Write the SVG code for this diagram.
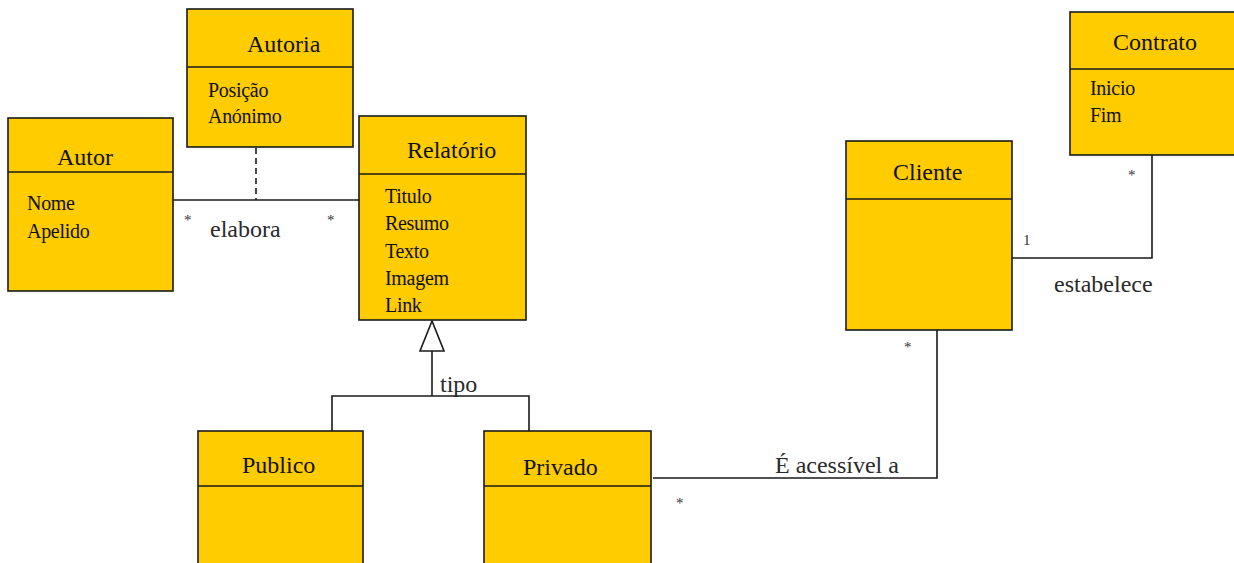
<svg xmlns="http://www.w3.org/2000/svg" width="1234" height="563" viewBox="0 0 1234 563">
<style>
.box{fill:#FFCC00;stroke:#1a1a1a;stroke-width:1.6}
.div{stroke:#1a1a1a;stroke-width:1.6}
text{font-family:"Liberation Serif","DejaVu Serif","Noto Serif",serif}
.name{font-size:24px;fill:#111}
.attr{font-size:20px;fill:#111;letter-spacing:-0.3px}
.lbl{font-size:24px;fill:#2a2a2a}
.mul{font-size:15px;fill:#333}
.con{fill:none;stroke:#1a1a1a;stroke-width:1.6}
</style>
<rect width="1234" height="563" fill="#fff"/>
<g id="connectors">
<polyline class="con" points="173,200 359,200"/>
<line class="con" x1="256" y1="148" x2="256" y2="200" stroke-dasharray="6,4"/>
<polygon points="432,321 420,351 444,351" fill="#fff" stroke="#1a1a1a" stroke-width="1.6"/>
<polyline class="con" points="432,351 432,396"/>
<polyline class="con" points="332,431 332,396 529,396 529,431"/>
<polyline class="con" points="653,478 937,478 937,328"/>
<polyline class="con" points="1012,258 1152,258 1152,155"/>
<text class="mul" x="184" y="225">*</text>
<text class="lbl" x="210" y="237">elabora</text>
<text class="mul" x="327" y="225">*</text>
<text class="lbl" x="440" y="392">tipo</text>
<text class="lbl" x="775" y="473">É acessível a</text>
<text class="mul" x="676" y="508">*</text>
<text class="mul" x="904" y="352">*</text>
<text class="mul" x="1023" y="245">1</text>
<text class="mul" x="1128" y="180">*</text>
<text class="lbl" x="1054" y="292">estabelece</text>
</g>
<g id="Autoria">
<rect class="box" x="187" y="9" width="166" height="138"/>
<line class="div" x1="187" y1="67" x2="353" y2="67"/>
<text class="name" x="247" y="52">Autoria</text>
<text class="attr" x="208" y="97">Posição</text>
<text class="attr" x="208" y="123">Anónimo</text>
</g>
<g id="Autor">
<rect class="box" x="8" y="118" width="165" height="173"/>
<line class="div" x1="8" y1="172" x2="173" y2="172"/>
<text class="name" x="57" y="165">Autor</text>
<text class="attr" x="27" y="210">Nome</text>
<text class="attr" x="27" y="238">Apelido</text>
</g>
<g id="Relatorio">
<rect class="box" x="359" y="116" width="167" height="204"/>
<line class="div" x1="359" y1="174" x2="526" y2="174"/>
<text class="name" x="407" y="158">Relatório</text>
<text class="attr" x="385" y="203">Titulo</text>
<text class="attr" x="385" y="230">Resumo</text>
<text class="attr" x="385" y="258">Texto</text>
<text class="attr" x="385" y="285">Imagem</text>
<text class="attr" x="385" y="312">Link</text>
</g>
<g id="Contrato">
<rect class="box" x="1070" y="12" width="172" height="143"/>
<line class="div" x1="1070" y1="69" x2="1242" y2="69"/>
<text class="name" x="1113" y="50">Contrato</text>
<text class="attr" x="1090" y="95">Inicio</text>
<text class="attr" x="1090" y="122">Fim</text>
</g>
<g id="Cliente">
<rect class="box" x="846" y="141" width="166" height="189"/>
<line class="div" x1="846" y1="199" x2="1012" y2="199"/>
<text class="name" x="893" y="180">Cliente</text>
</g>
<g id="Publico">
<rect class="box" x="198" y="431" width="165" height="140"/>
<line class="div" x1="198" y1="486" x2="363" y2="486"/>
<text class="name" x="242" y="473">Publico</text>
</g>
<g id="Privado">
<rect class="box" x="484" y="431" width="167" height="140"/>
<line class="div" x1="484" y1="486" x2="651" y2="486"/>
<text class="name" x="523" y="475">Privado</text>
</g>
</svg>
